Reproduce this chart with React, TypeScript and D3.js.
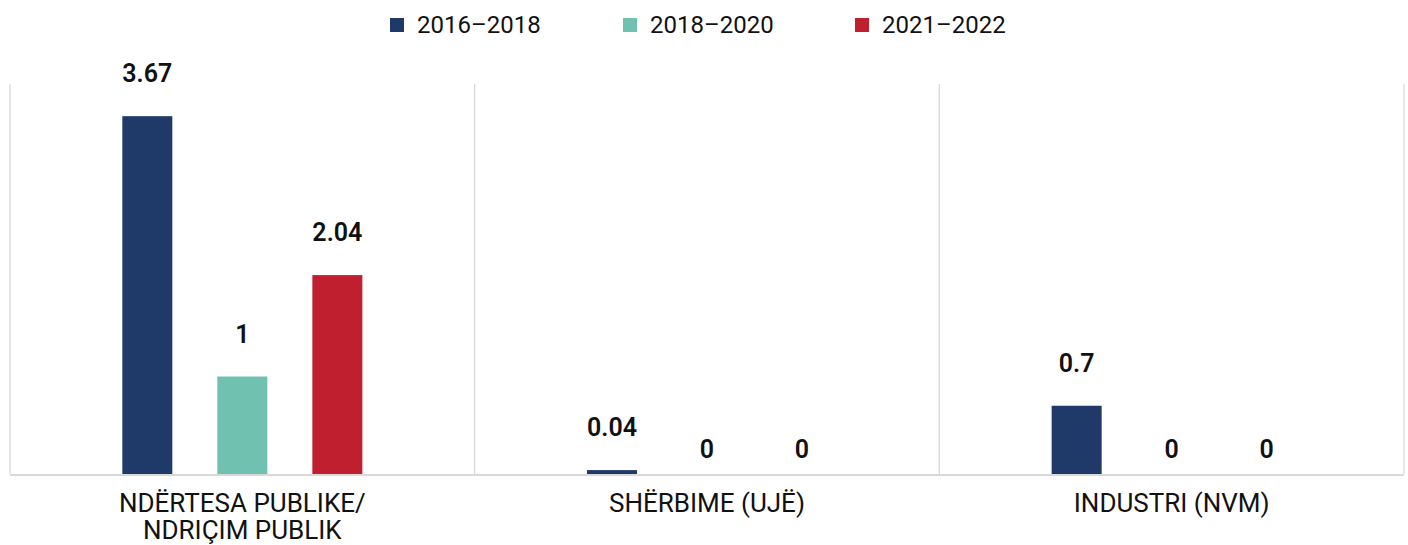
import React from 'react';
import * as d3 from 'd3';

// categories (two-line label for the first one)
const categories = ['ndertesa', 'sherbime', 'industri'];
const categoryLabels = [
  ['NDËRTESA PUBLIKE/', 'NDRIÇIM PUBLIK'],
  ['SHËRBIME (UJË)'],
  ['INDUSTRI (NVM)'],
];

const seriesNames = ['2016–2018', '2018–2020', '2021–2022'];
const seriesColors = ['#1f3a68', '#70c1b0', '#c01f30'];

// values per series, in category order
const values2016 = [3.67, 0.04, 0.7];
const values2018 = [1, 0, 0];
const values2021 = [2.04, 0, 0];

const allSeries = [values2016, values2018, values2021];

const W = 1408;
const H = 545;
const FONT = 'Roboto, "Open Sans", sans-serif';

export default function App() {
  const margin = { left: 10, right: 4, top: 84, bottom: 71 };

  // --- Scales ---
  const x0 = d3.scaleBand()
    .domain(categories)
    .range([margin.left, W - margin.right])
    .padding(0);

  const x1 = d3.scaleBand()
    .domain(seriesNames)
    .range([0, x0.bandwidth()])
    .paddingInner(0.4737)
    .paddingOuter(1.182);

  const y = d3.scaleLinear()
    .domain([0, 4])
    .range([H - margin.bottom, margin.top]);

  const baseY = y(0);
  const gridXs = [...categories.map(c => x0(c)), x0.range()[1]];

  // legend item starts (square left edge)
  const legendX = d3.scaleOrdinal().domain(seriesNames).range([390, 623, 855]);

  return (
    <svg width={W} height={H} style={{ position: 'absolute', left: 0, top: 0, display: 'block' }}>
      <rect width={W} height={H} fill="#fff" />

      {/* legend */}
      {seriesNames.map((s, i) => (
        <g key={s} transform={`translate(${legendX(s)},0)`}>
          <rect x={0} y={18} width={14} height={14} fill={seriesColors[i]} />
          <text x={27} y={33} fontFamily={FONT} fontSize={24} fill="#111">{s}</text>
        </g>
      ))}

      {/* vertical separators */}
      {gridXs.map((gx, i) => (
        <line key={i} x1={gx} x2={gx} y1={margin.top} y2={baseY} stroke="#d9d9d9" strokeWidth={1.3} />
      ))}

      {/* bars */}
      {categories.map((c, ci) => (
        <g key={c} transform={`translate(${x0(c)},0)`}>
          {seriesNames.map((s, si) => {
            const v = allSeries[si][ci];
            return (
              <rect key={s} x={x1(s)} y={y(v)} width={x1.bandwidth()} height={baseY - y(v)} fill={seriesColors[si]} />
            );
          })}
          {seriesNames.map((s, si) => {
            const v = allSeries[si][ci];
            const ly = v > 0 ? y(v) - 34 : baseY - 16;
            return (
              <text key={s + 'l'} x={x1(s) + x1.bandwidth() / 2} y={ly} textAnchor="middle"
                fontFamily={FONT} fontSize={25} fontWeight={600} fill="#111">
                {v}
              </text>
            );
          })}
        </g>
      ))}

      {/* baseline */}
      <line x1={margin.left} x2={W - margin.right} y1={baseY + 1} y2={baseY + 1} stroke="#d9d9d9" strokeWidth={2} />

      {/* category labels */}
      {categories.map((c, ci) => (
        <text key={c} x={x0(c) + x0.bandwidth() / 2} textAnchor="middle" fontFamily={FONT} fontSize={26} fill="#111">
          {categoryLabels[ci].map((line, li) => (
            <tspan key={li} x={x0(c) + x0.bandwidth() / 2} y={512 + li * 27}>{line}</tspan>
          ))}
        </text>
      ))}
    </svg>
  );
}
